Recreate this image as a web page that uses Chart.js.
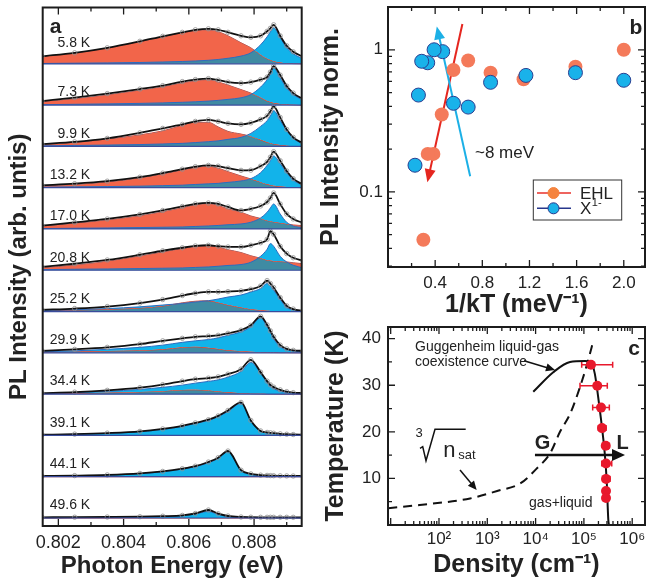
<!DOCTYPE html>
<html>
<head>
<meta charset="utf-8">
<title>EHL spectra, intensity and phase diagram</title>
<script src="https://cdn.jsdelivr.net/npm/chart.js@4.4.1/dist/chart.umd.min.js"></script>
<style>
  html, body { margin: 0; padding: 0; background: #fff; }
  #wrap { position: relative; width: 647px; height: 582px; overflow: hidden; }
  canvas { position: absolute; }
  #panelA { left: 0; top: 0; }
  #panelB { left: 312px; top: 0; }
  #panelC { left: 312px; top: 318px; }
</style>
</head>
<body>
<div id="wrap">
  <canvas id="panelA" width="312" height="582"></canvas>
  <canvas id="panelB" width="335" height="322"></canvas>
  <canvas id="panelC" width="335" height="264"></canvas>
</div>
<script>
// ---- panel a: PL spectra, heights above each trace baseline (arb. units) ----
const temps = ['5.8 K', '7.3 K', '9.9 K', '13.2 K', '17.0 K', '20.8 K', '25.2 K', '29.9 K', '34.4 K', '39.1 K', '44.1 K', '49.6 K'];
const energy = [0.8015, 0.8025, 0.8035, 0.8045, 0.8052, 0.8058, 0.8062, 0.8066, 0.8069, 0.8072, 0.8076, 0.8079, 0.8082, 0.8084, 0.8085, 0.8086, 0.8088, 0.8090, 0.8092, 0.8095];

// EHL band (red)
const ehlCurves = [
  [7, 10.5, 15.5, 22, 26.5, 31, 33, 33.5, 32, 28, 21, 16, 9, 5, 3.8, 2.5, 1.2, 0.5, 0.2, 0],
  [3.3, 6, 10, 14.5, 18, 22, 24, 25, 23, 20, 15.5, 12, 7.5, 4, 3, 2, 1.2, 0.6, 0.3, 0],
  [1.3, 3.5, 7, 11.5, 15.5, 21, 24, 24, 19.5, 15, 12.3, 10, 6.5, 4, 3.2, 2.3, 1.3, 0.7, 0.3, 0],
  [1.7, 3, 5.5, 9.5, 13.5, 17.5, 20, 21, 19.5, 16, 11.7, 8.7, 5.5, 3.3, 2.6, 1.8, 1.2, 0.7, 0.3, 0],
  [2.7, 5.5, 8.7, 13, 17, 21, 24, 25, 23.5, 20, 16.7, 13, 10.5, 8.3, 7.8, 7, 6, 5, 4, 3.3],
  [2.3, 5, 8.8, 14, 18, 21.5, 23.5, 24.3, 23, 20.5, 17.7, 14.5, 12, 10, 9.7, 9, 8.7, 8.3, 7.5, 6.5],
  [0.7, 1.5, 2.2, 3.5, 5.5, 8.7, 10.3, 10.7, 9, 6.5, 4, 2.3, 1.2, 0.7, 0.6, 0.5, 0.5, 0.4, 0.4, 0.3],
  [0.7, 1.2, 1.8, 2.4, 3.5, 5.5, 6, 5, 3.8, 2.5, 1.7, 1, 0.6, 0.4, 0.3, 0.3, 0.2, 0.2, 0.1, 0.1],
  [0.3, 0.8, 1.4, 2.2, 3, 4.2, 4.3, 3.7, 2.7, 1.8, 1, 0.5, 0.3, 0.2, 0.2, 0.2, 0.1, 0.1, 0.1, 0.1],
  [0, 0, 0, 0, 0, 0, 0, 0, 0, 0, 0, 0, 0, 0, 0, 0, 0, 0, 0, 0],
  [0, 0, 0, 0, 0, 0, 0, 0, 0, 0, 0, 0, 0, 0, 0, 0, 0, 0, 0, 0],
  [0, 0, 0, 0, 0, 0, 0, 0, 0, 0, 0, 0, 0, 0, 0, 0, 0, 0, 0, 0]
];

// X1- trion peak (blue)
const excCurves = [
  [0.3, 0.6, 0.9, 1.3, 1.8, 2.3, 2.8, 3.5, 4.3, 5.5, 7.7, 11, 19, 27, 32, 36, 26, 16, 10, 5],
  [0.4, 0.8, 1.2, 1.7, 2.2, 2.8, 3.3, 4, 4.7, 5.7, 7.3, 10.5, 18, 25.5, 31, 37, 27, 17, 10.5, 5],
  [0.5, 0.9, 1.3, 1.8, 2.4, 3, 3.8, 4.7, 5.5, 7, 9, 13, 20, 25.7, 30.5, 35.7, 26, 15.7, 8, 2.3],
  [0.5, 0.8, 1.1, 1.5, 2, 2.5, 3.2, 3.8, 4.3, 5.3, 6.7, 9, 15, 22.3, 27, 31.7, 24, 15, 7.5, 2.3],
  [0.4, 0.7, 1, 1.4, 1.7, 2, 2.5, 3, 3.5, 4.2, 5, 6.7, 11, 16.7, 21, 25, 15, 6.7, 3, 1.3],
  [0.6, 1, 1.3, 1.7, 2, 2.3, 2.8, 3.3, 4, 4.8, 5.7, 8, 14, 21, 26.7, 24, 14, 8.3, 5, 2.3],
  [1, 1.8, 3, 4.7, 6.5, 8, 9.5, 10.8, 12.5, 14.5, 16.5, 19.5, 23, 28, 25.5, 21.5, 12, 4, 1.8, 0.6],
  [1, 2, 3.5, 5.5, 7.7, 10.5, 12, 13.3, 15, 17.5, 21, 26, 35, 26, 20.5, 14, 6, 3, 1.7, 1],
  [0.7, 1.5, 2.8, 4.7, 6.8, 9, 11, 12.7, 14.3, 17, 22.7, 31.7, 21, 11.5, 7.7, 5.5, 2.7, 1.5, 0.8, 0.3],
  [0.6, 1.1, 2, 3.6, 6, 9, 12, 15, 18.8, 24, 32, 14.3, 4, 2.5, 2, 1.6, 1.1, 0.7, 0.5, 0.3],
  [0.5, 0.9, 1.5, 3, 5, 7.6, 10, 14, 18.3, 25, 6, 2.2, 1, 0.7, 0.6, 0.5, 0.3, 0.2, 0.1, 0],
  [0.2, 0.3, 0.5, 0.8, 1.3, 2.2, 4, 6.5, 3.5, 1.3, 0.4, 0.2, 0.1, 0.1, 0.1, 0, 0, 0, 0, 0]
];

// measured spectrum / total fit (black)
const fitCurves = [
  [7.5, 11, 16, 22.5, 27.5, 31.5, 34, 35, 34, 31.5, 28, 26.5, 28, 32.5, 35.5, 39, 28, 18, 12, 7],
  [4, 7.5, 11.5, 16, 19.5, 23.5, 25.5, 26.5, 25, 23, 22, 23, 25.5, 28, 33, 39, 30, 19, 12, 6],
  [2.3, 4.5, 8, 13.5, 18, 22, 25, 26.5, 25, 23, 22, 23.5, 27, 30.5, 35, 40, 29, 17, 9, 3],
  [2.3, 4, 6.5, 10.5, 14.5, 18.5, 21, 22.3, 21.5, 19.5, 17.3, 17.5, 21.5, 25.7, 30.5, 36, 27, 16.7, 9, 3],
  [3.3, 6.5, 10, 14.5, 18.5, 22.5, 25, 26, 25, 22, 18.5, 20, 23, 27, 31, 36, 25, 15, 10, 6],
  [3.3, 6.5, 10.3, 15.5, 19.5, 22.5, 24.3, 25, 24, 23.3, 23.3, 25, 27.5, 31, 39, 36, 24, 16.7, 12.5, 9.5],
  [1.7, 3, 5, 8.5, 12, 16, 18.3, 19.7, 19.7, 20, 20.7, 22.3, 25.5, 31, 28, 24, 14, 5.7, 2.5, 0.7],
  [2, 3.5, 5.5, 8.7, 12, 14.5, 16, 16.7, 17.5, 19.5, 22.7, 27.5, 36.5, 28, 22, 16, 7.7, 4, 2.5, 2],
  [1, 2, 3.8, 6.5, 9.5, 13, 15, 16, 17.3, 20, 25, 34.3, 22, 13, 9.3, 7, 4.3, 2.5, 1.5, 1],
  [0.7, 1.3, 2.3, 4, 6.5, 9.5, 12.5, 15.7, 19.5, 25, 33, 15, 4.5, 3, 2.6, 2.2, 1.6, 1.2, 0.9, 0.7],
  [0.7, 1.1, 1.8, 3.3, 5.3, 8, 10.5, 14.7, 19, 25.7, 6.5, 2.8, 1.6, 1.3, 1.1, 1, 0.9, 0.8, 0.7, 0.7],
  [0.7, 0.8, 1, 1.3, 1.8, 2.6, 4.5, 8, 4.3, 2, 1, 0.8, 0.7, 0.7, 0.7, 0.7, 0.7, 0.7, 0.7, 0.7]
];

// ---- panel b: normalised PL intensity vs 1/kT ----
const ehlInvT = [2.0, 1.59, 1.15, 0.87, 0.68, 0.555, 0.456, 0.385, 0.337, 0.30];
const ehlNorm = [1.0, 0.76, 0.62, 0.69, 0.84, 0.72, 0.35, 0.185, 0.185, 0.046];
const excInvT = [2.0, 1.59, 1.17, 0.87, 0.68, 0.555, 0.464, 0.391, 0.337, 0.286, 0.258, 0.229];
const excNorm = [0.61, 0.69, 0.66, 0.59, 0.395, 0.42, 0.97, 1.0, 0.81, 0.83, 0.48, 0.154];

// ---- panel c: phase diagram ----
const liquidTemp = [34.4, 29.9, 25.2, 20.8, 17.0, 13.2, 9.9, 7.3, 5.8];
const liquidDensity = [1.4e5, 1.89e5, 2.26e5, 2.37e5, 2.83e5, 2.87e5, 2.87e5, 2.87e5, 2.87e5];
const densityLow = [9.0e4, 8.3e4, 1.52e5, 1.99e5, 2.45e5, 2.34e5, 2.45e5, 2.5e5, 2.5e5];
const densityHigh = [3.94e5, 3.05e5, 3.36e5, 2.87e5, 3.36e5, 3.77e5, 3.47e5, 3.3e5, 3.3e5];
const coexDensity = [8.95e3, 2.32e4, 5.15e4, 1.05e5, 1.37e5, 1.68e5, 2.1e5, 2.4e5, 2.7e5, 2.96e5, 3.2e5, 3.3e5];
const coexTemp = [28.6, 32.8, 35, 35.2, 35, 32.5, 25.3, 20.4, 15.4, 9.6, 1.1, 0];
const nsatDensity = [8.9, 40, 440, 1.6e3, 4.8e3, 1.05e4, 2.0e4, 3.2e4, 5.2e4, 8.3e4, 1.23e5, 1.57e5];
const nsatTemp = [3.6, 4.3, 5.7, 7.3, 8.9, 12.1, 15.4, 20, 23.9, 29.6, 35.4, 39.6];

const FONT = "'Liberation Sans', Arial, Helvetica, sans-serif";
const INK = '#222';
const RED_FILL = '#f2654a';
const BLUE_FILL = '#12b3ea';
const OVERLAP = '#3f8ba3';
const STRIP_GAP = 41.3;
const SUP = ['\u2070', '\u00b9', '\u00b2', '\u00b3', '\u2074', '\u2075', '\u2076'];

Chart.defaults.font.family = FONT;
Chart.defaults.color = INK;
Chart.defaults.animation = false;

function baseOf(k) {
  return (temps.length - 1 - k) * STRIP_GAP;
}

// tick positions for the inward tick marks on the frame
function linTicks(min, max, step, majorEvery) {
  const out = [];
  for (let i = Math.ceil(min / step - 1e-9); i * step <= max + 1e-12; i++) {
    out.push({ v: i * step, major: i % majorEvery === 0 });
  }
  return out;
}
function logTicks(min, max) {
  const out = [];
  for (let e = Math.floor(Math.log10(min)); e <= Math.ceil(Math.log10(max)); e++) {
    for (let m = 1; m < 10; m++) {
      const v = m * Math.pow(10, e);
      if (v >= min && v <= max) out.push({ v, major: m === 1 });
    }
  }
  return out;
}

function makeFrame(xTicks, yTicks) {
  return {
    id: 'frame',
    afterDatasetsDraw(chart) {
      const { ctx, chartArea: a, scales } = chart;
      ctx.save();
      ctx.strokeStyle = '#1c1c1c';
      ctx.lineWidth = 1.3;
      xTicks.forEach(t => {
        const p = scales.x.getPixelForValue(t.v);
        const len = t.major ? 7 : 4;
        ctx.beginPath();
        ctx.moveTo(p, a.bottom); ctx.lineTo(p, a.bottom - len);
        ctx.moveTo(p, a.top); ctx.lineTo(p, a.top + len);
        ctx.stroke();
      });
      yTicks.forEach(t => {
        const p = scales.y.getPixelForValue(t.v);
        const len = t.major ? 7 : 4;
        ctx.beginPath();
        ctx.moveTo(a.left, p); ctx.lineTo(a.left + len, p);
        ctx.moveTo(a.right, p); ctx.lineTo(a.right - len, p);
        ctx.stroke();
      });
      ctx.lineWidth = 2;
      ctx.strokeRect(a.left, a.top, a.right - a.left, a.bottom - a.top);
      ctx.restore();
    }
  };
}

function arrow(ctx, x1, y1, x2, y2, color, width, headLen, headW) {
  const ang = Math.atan2(y2 - y1, x2 - x1);
  ctx.save();
  ctx.strokeStyle = color;
  ctx.fillStyle = color;
  ctx.lineWidth = width;
  ctx.beginPath();
  ctx.moveTo(x1, y1);
  ctx.lineTo(x2 - Math.cos(ang) * headLen * 0.8, y2 - Math.sin(ang) * headLen * 0.8);
  ctx.stroke();
  ctx.translate(x2, y2);
  ctx.rotate(ang);
  ctx.beginPath();
  ctx.moveTo(0, 0);
  ctx.lineTo(-headLen, -headW);
  ctx.lineTo(-headLen, headW);
  ctx.closePath();
  ctx.fill();
  ctx.restore();
}

function fixWidth(w) {
  return s => { s.width = w; s.paddingTop = 0; s.paddingBottom = 0; };
}
function fixHeight(h) {
  return s => { s.height = h; s.paddingLeft = 0; s.paddingRight = 0; };
}
const noGrid = { display: false, drawTicks: false };
const noBorder = { display: false };

// ================= panel a =================
const datasetsA = [];
temps.forEach((label, k) => {
  const base = baseOf(k);
  const pts = arr => energy.map((e, i) => ({ x: e, y: base + arr[i] }));
  const ehlIndex = datasetsA.length;
  datasetsA.push({
    label: 'EHL ' + label,
    data: pts(ehlCurves[k]),
    order: 3,
    fill: { value: base },
    backgroundColor: OVERLAP,
    borderColor: '#e0402e',
    borderWidth: 1,
    pointRadius: 0,
    cubicInterpolationMode: 'monotone'
  });
  datasetsA.push({
    label: 'X1- ' + label,
    data: pts(excCurves[k]),
    order: 2,
    fill: { target: ehlIndex, above: BLUE_FILL, below: RED_FILL },
    backgroundColor: BLUE_FILL,
    borderColor: '#2c6cc0',
    borderWidth: 1,
    pointRadius: 0,
    cubicInterpolationMode: 'monotone'
  });
  datasetsA.push({
    label: 'PL ' + label,
    data: pts(fitCurves[k]),
    order: 1,
    fill: false,
    borderColor: '#111',
    borderWidth: 1.8,
    pointRadius: 2.2,
    pointBorderColor: '#8f8f8f',
    pointBackgroundColor: 'rgba(255,255,255,0)',
    pointBorderWidth: 0.8,
    cubicInterpolationMode: 'monotone'
  });
});

const traceDecor = {
  id: 'traceDecor',
  afterDatasetsDraw(chart) {
    const { ctx, chartArea: a, scales: { y } } = chart;
    ctx.save();
    ctx.strokeStyle = '#3a4c9c';
    ctx.lineWidth = 1.2;
    temps.forEach((t, k) => {
      const py = y.getPixelForValue(baseOf(k));
      ctx.beginPath();
      ctx.moveTo(a.left, py);
      ctx.lineTo(a.right, py);
      ctx.stroke();
    });
    ctx.fillStyle = INK;
    ctx.font = '14px ' + FONT;
    ctx.textAlign = 'right';
    ctx.textBaseline = 'middle';
    temps.forEach((t, k) => {
      const rise = k === 0 ? 21 : 12.5;
      ctx.fillText(t, a.left + 47.5, y.getPixelForValue(baseOf(k) + rise));
    });
    ctx.font = 'bold 21px ' + FONT;
    ctx.textAlign = 'center';
    ctx.fillText('a', a.left + 13, a.top + 20);
    ctx.restore();
  }
};

new Chart(document.getElementById('panelA'), {
  type: 'line',
  data: { datasets: datasetsA },
  options: {
    responsive: false,
    devicePixelRatio: 1,
    layout: { autoPadding: false, padding: { top: 7.5, right: 10.3, bottom: 0, left: 0 } },
    plugins: { legend: { display: false }, tooltip: { enabled: false } },
    scales: {
      x: {
        type: 'linear',
        min: 0.80152,
        max: 0.80946,
        grid: noGrid,
        border: noBorder,
        ticks: {
          stepSize: 0.001,
          autoSkip: false,
          maxRotation: 0,
          includeBounds: false,
          padding: 6.5,
          font: { size: 18 },
          color: INK,
          callback: v => (Math.round(v * 1000) % 2 === 0 ? v.toFixed(3) : '')
        },
        title: { display: true, text: 'Photon Energy (eV)', font: { size: 24, weight: 'bold' }, color: INK, padding: { top: 0, bottom: 1 } },
        afterFit: fixHeight(56)
      },
      y: {
        type: 'linear',
        min: -8,
        max: 510.6,
        grid: noGrid,
        border: noBorder,
        ticks: { display: false },
        title: { display: true, text: 'PL Intensity (arb. untis)', font: { size: 24, weight: 'bold' }, color: INK, padding: { top: 4.5, bottom: 0 } },
        afterFit: fixWidth(42.7)
      }
    }
  },
  plugins: [traceDecor, makeFrame(linTicks(0.80152, 0.80946, 0.001, 2), [])]
});

// ================= panel b =================
const panelBDecor = {
  id: 'panelBDecor',
  beforeDatasetsDraw(chart) {
    const { ctx, scales: { x, y } } = chart;
    arrow(ctx, x.getPixelForValue(0.631), y.getPixelForValue(1.52), x.getPixelForValue(0.334), y.getPixelForValue(0.117), '#e5261f', 2, 13, 5.5);
    arrow(ctx, x.getPixelForValue(0.697), y.getPixelForValue(0.129), x.getPixelForValue(0.414), y.getPixelForValue(1.46), '#1cb0e6', 2, 13, 5.5);
  },
  afterDatasetsDraw(chart) {
    const { ctx, chartArea: a } = chart;
    ctx.save();
    ctx.fillStyle = INK;
    ctx.textBaseline = 'middle';
    ctx.font = '17px ' + FONT;
    ctx.textAlign = 'left';
    ctx.fillText('~8 meV', a.left + 87, a.top + 146);
    ctx.font = 'bold 21px ' + FONT;
    ctx.textAlign = 'center';
    ctx.fillText('b', a.left + 248, a.top + 21.5);

    // legend box
    const bx = a.left + 145.3, by = a.top + 173;
    ctx.fillStyle = '#fff';
    ctx.fillRect(bx, by, 88.4, 40);
    ctx.strokeStyle = '#333';
    ctx.lineWidth = 1;
    ctx.strokeRect(bx, by, 88.4, 40);
    const rows = [
      { y: a.top + 186, line: '#e8312a', dot: '#f5843f', edge: '#f5843f' },
      { y: a.top + 201.3, line: '#27368c', dot: '#19b2ea', edge: '#27368c' }
    ];
    rows.forEach(r => {
      ctx.strokeStyle = r.line;
      ctx.lineWidth = 1.5;
      ctx.beginPath();
      ctx.moveTo(a.left + 149, r.y);
      ctx.lineTo(a.left + 183, r.y);
      ctx.stroke();
      ctx.beginPath();
      ctx.arc(a.left + 165.5, r.y, 5.5, 0, Math.PI * 2);
      ctx.fillStyle = r.dot;
      ctx.fill();
      ctx.strokeStyle = r.edge;
      ctx.lineWidth = 1;
      ctx.stroke();
    });
    ctx.fillStyle = INK;
    ctx.textAlign = 'left';
    ctx.font = '17px ' + FONT;
    ctx.fillText('EHL', a.left + 192, rows[0].y + 1);
    ctx.fillText('X', a.left + 192, rows[1].y + 1);
    const xw = ctx.measureText('X').width;
    ctx.font = '11px ' + FONT;
    ctx.fillText('1-', a.left + 192 + xw + 0.5, rows[1].y - 5);
    ctx.restore();
  }
};

new Chart(document.getElementById('panelB'), {
  type: 'scatter',
  data: {
    datasets: [
      {
        label: 'X1-',
        data: excInvT.map((v, i) => ({ x: v, y: excNorm[i] })),
        order: 1,
        pointRadius: 7,
        pointBackgroundColor: '#19b2ea',
        pointBorderColor: '#2b3f91',
        pointBorderWidth: 1
      },
      {
        label: 'EHL',
        data: ehlInvT.map((v, i) => ({ x: v, y: ehlNorm[i] })),
        order: 2,
        pointRadius: 7,
        pointBackgroundColor: '#f47a5a',
        pointBorderColor: '#f47a5a',
        pointBorderWidth: 0
      }
    ]
  },
  options: {
    responsive: false,
    devicePixelRatio: 1,
    layout: { autoPadding: false, padding: { top: 7, right: 2, bottom: 0, left: 0 } },
    plugins: { legend: { display: false }, tooltip: { enabled: false } },
    scales: {
      x: {
        type: 'linear',
        min: 0,
        max: 2.18,
        grid: noGrid,
        border: noBorder,
        ticks: {
          stepSize: 0.2,
          autoSkip: false,
          maxRotation: 0,
          includeBounds: false,
          padding: 6,
          font: { size: 17 },
          color: INK,
          callback: v => {
            const k = Math.round(v * 10);
            return (k > 0 && k % 4 === 0) ? (k / 10).toFixed(1) : '';
          }
        },
        title: { display: true, text: '1/kT (meV\u207b\u00b9)', font: { size: 25, weight: 'bold' }, color: INK, padding: { top: 0, bottom: 2 } },
        afterFit: fixHeight(55)
      },
      y: {
        type: 'logarithmic',
        min: 0.0296,
        max: 2.0,
        grid: noGrid,
        border: noBorder,
        ticks: {
          autoSkip: false,
          padding: 5,
          font: { size: 17 },
          color: INK,
          callback: v => {
            if (Math.abs(v - 1) < 1e-6) return '1';
            if (Math.abs(v - 0.1) < 1e-7) return '0.1';
            return '';
          }
        },
        title: { display: true, text: 'PL Intensity norm.', font: { size: 25, weight: 'bold' }, color: INK, padding: { top: 3.8, bottom: 0 } },
        afterFit: fixWidth(76)
      }
    }
  },
  plugins: [panelBDecor, makeFrame(linTicks(0, 2.18, 0.2, 2), logTicks(0.0296, 2.0))]
});

// ================= panel c =================
const panelCDecor = {
  id: 'panelCDecor',
  beforeDatasetsDraw(chart) {
    const { ctx, scales: { x, y } } = chart;
    ctx.save();
    ctx.strokeStyle = '#e8192c';
    ctx.lineWidth = 1.5;
    liquidTemp.forEach((t, i) => {
      const py = y.getPixelForValue(t);
      const x1 = x.getPixelForValue(densityLow[i]);
      const x2 = x.getPixelForValue(densityHigh[i]);
      ctx.beginPath();
      ctx.moveTo(x1, py); ctx.lineTo(x2, py);
      ctx.moveTo(x1, py - 3); ctx.lineTo(x1, py + 3);
      ctx.moveTo(x2, py - 3); ctx.lineTo(x2, py + 3);
      ctx.stroke();
    });
    ctx.restore();
  },
  afterDatasetsDraw(chart) {
    const { ctx, chartArea: a, scales: { x, y } } = chart;
    const L = a.left, T = a.top;
    // gas -> liquid arrow
    arrow(ctx, x.getPixelForValue(9.7e3), y.getPixelForValue(15), x.getPixelForValue(7.1e5), y.getPixelForValue(15), '#111', 2.5, 13, 6);
    arrow(ctx, L + 136, T + 33.7, L + 167, T + 43, '#111', 1.5, 9, 4);
    arrow(ctx, L + 72, T + 143, L + 88.7, T + 163, '#111', 1.5, 9, 4);

    ctx.save();
    ctx.fillStyle = INK;
    ctx.textBaseline = 'middle';
    ctx.textAlign = 'left';
    ctx.font = '14px ' + FONT;
    ctx.fillText('Guggenheim liquid-gas', L + 27, T + 19.7);
    ctx.fillText('coexistence curve', L + 27, T + 34.7);
    ctx.textAlign = 'center';
    ctx.fillText('gas+liquid', L + 172.8, T + 176.3);
    ctx.font = 'bold 20px ' + FONT;
    ctx.fillText('G', L + 154.5, T + 116);
    ctx.fillText('L', L + 234.5, T + 116);
    ctx.font = 'bold 21px ' + FONT;
    ctx.fillText('c', L + 246, T + 22);

    // cube root of n_sat
    ctx.font = '13px ' + FONT;
    ctx.fillText('3', L + 31.2, T + 106.8);
    ctx.strokeStyle = '#111';
    ctx.lineWidth = 1.5;
    ctx.beginPath();
    ctx.moveTo(L + 32, T + 121.3);
    ctx.lineTo(L + 34.7, T + 119.7);
    ctx.lineTo(L + 38, T + 133.7);
    ctx.lineTo(L + 47, T + 102.3);
    ctx.lineTo(L + 77.7, T + 102.3);
    ctx.stroke();
    ctx.textAlign = 'left';
    ctx.textBaseline = 'alphabetic';
    ctx.font = '22px ' + FONT;
    ctx.fillText('n', L + 55.3, T + 129.7);
    ctx.font = '13px ' + FONT;
    ctx.fillText('sat', L + 70.3, T + 132);
    ctx.restore();
  }
};

new Chart(document.getElementById('panelC'), {
  type: 'scatter',
  data: {
    datasets: [
      {
        label: 'EHL density',
        data: liquidDensity.map((d, i) => ({ x: d, y: liquidTemp[i] })),
        order: 0,
        pointRadius: 5,
        pointBackgroundColor: '#e8192c',
        pointBorderColor: '#e8192c',
        pointBorderWidth: 0
      },
      {
        label: 'Guggenheim coexistence curve',
        data: coexDensity.map((d, i) => ({ x: d, y: coexTemp[i] })),
        order: 1,
        showLine: true,
        pointRadius: 0,
        borderColor: '#111',
        borderWidth: 2,
        cubicInterpolationMode: 'monotone'
      },
      {
        label: 'n_sat^(1/3)',
        data: nsatDensity.map((d, i) => ({ x: d, y: nsatTemp[i] })),
        order: 2,
        showLine: true,
        pointRadius: 0,
        borderColor: '#111',
        borderWidth: 2,
        borderDash: [9, 6],
        cubicInterpolationMode: 'monotone'
      }
    ]
  },
  options: {
    responsive: false,
    devicePixelRatio: 1,
    layout: { autoPadding: false, padding: { top: 9, right: 2, bottom: 0, left: 0 } },
    plugins: { legend: { display: false }, tooltip: { enabled: false } },
    scales: {
      x: {
        type: 'logarithmic',
        min: 8.8,
        max: 1.84e6,
        grid: noGrid,
        border: noBorder,
        ticks: {
          autoSkip: false,
          maxRotation: 0,
          padding: 4,
          font: { size: 17 },
          color: INK,
          callback: v => {
            const e = Math.log10(v);
            const n = Math.round(e);
            return (Math.abs(e - n) < 1e-6 && n >= 2) ? '10' + SUP[n] : '';
          }
        },
        title: { display: true, text: 'Density (cm\u207b\u00b9)', font: { size: 25, weight: 'bold' }, color: INK, padding: { top: 0, bottom: 2 } },
        afterFit: fixHeight(57)
      },
      y: {
        type: 'linear',
        min: 0,
        max: 42.5,
        grid: noGrid,
        border: noBorder,
        ticks: {
          stepSize: 5,
          autoSkip: false,
          includeBounds: false,
          padding: 7,
          font: { size: 17 },
          color: INK,
          callback: v => (v > 0 && v % 10 === 0 ? String(v) : '')
        },
        title: { display: true, text: 'Temperature (K)', font: { size: 25, weight: 'bold' }, color: INK, padding: { top: 8.8, bottom: 0 } },
        afterFit: fixWidth(76)
      }
    }
  },
  plugins: [panelCDecor, makeFrame(logTicks(8.8, 1.84e6), linTicks(0, 42.5, 5, 2))]
});
</script>
</body>
</html>
